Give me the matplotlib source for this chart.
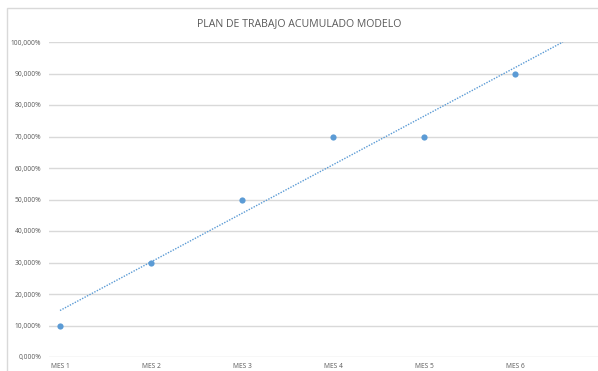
import numpy as np
import matplotlib
matplotlib.use("Agg")
import matplotlib.pyplot as plt
from matplotlib.patches import Rectangle
from matplotlib.ticker import FuncFormatter

months = ["MES 1", "MES 2", "MES 3", "MES 4", "MES 5", "MES 6"]
avance = [10, 30, 50, 70, 70, 90]          # cumulative progress, %
y_ticks = [0, 10, 20, 30, 40, 50, 60, 70, 80, 90, 100]

BLUE = "#5B9BD5"
GRID = "#D9D9D9"
TEXT = "#595959"
FONT = ["Open Sans", "DejaVu Sans"]

W, H = 598, 371
fig = plt.figure(figsize=(W / 100, H / 100), dpi=100)
fig.patch.set_facecolor("white")

# chart-area frame
fig.add_artist(Rectangle((7 / W, -0.1), 1.2, 1 - 8 / H + 0.1, transform=fig.transFigure,
                         fill=False, edgecolor=GRID, linewidth=1.0))

left, right, top, bottom = 49, 598, 42, 357
ax = fig.add_axes([left / W, 1 - bottom / H, (right - left) / W, (bottom - top) / H])

x = np.arange(1, len(months) + 1)
ax.set_xlim(0.879, 6.91)
ax.set_ylim(0, 100)

ax.set_yticks(y_ticks)
ax.yaxis.set_major_formatter(FuncFormatter(lambda v, p: f"{v:,.3f}%".replace(".", ",")))
ax.grid(axis="y", color=GRID, linewidth=1.0)
ax.set_axisbelow(True)
for s in ax.spines.values():
    s.set_visible(False)
ax.tick_params(length=0)
ax.tick_params(axis="y", pad=5.5, labelsize=4.8, labelcolor=TEXT)
ax.tick_params(axis="x", pad=4.0, labelsize=4.8, labelcolor=TEXT)
ax.set_xticks(x)
ax.set_xticklabels(months)
for lbl in ax.get_xticklabels() + ax.get_yticklabels():
    lbl.set_family(FONT)

# linear trendline, extended forward until it meets the axis maximum
m, b = np.polyfit(x, avance, 1)
x_end = (100 - b) / m
xt = np.array([1, x_end])
ax.plot(xt, m * xt + b, linestyle=(0, (1, 1)), color=BLUE, linewidth=1.0, zorder=2)

ax.scatter(x, avance, s=20, color=BLUE, zorder=3, linewidths=0)

fig.text(299 / W, 1 - 24 / H, "PLAN DE TRABAJO ACUMULADO MODELO", ha="center", va="center",
         fontsize=7.6, color=TEXT, family=FONT)

fig.savefig("out.png", dpi=100, facecolor="white")
